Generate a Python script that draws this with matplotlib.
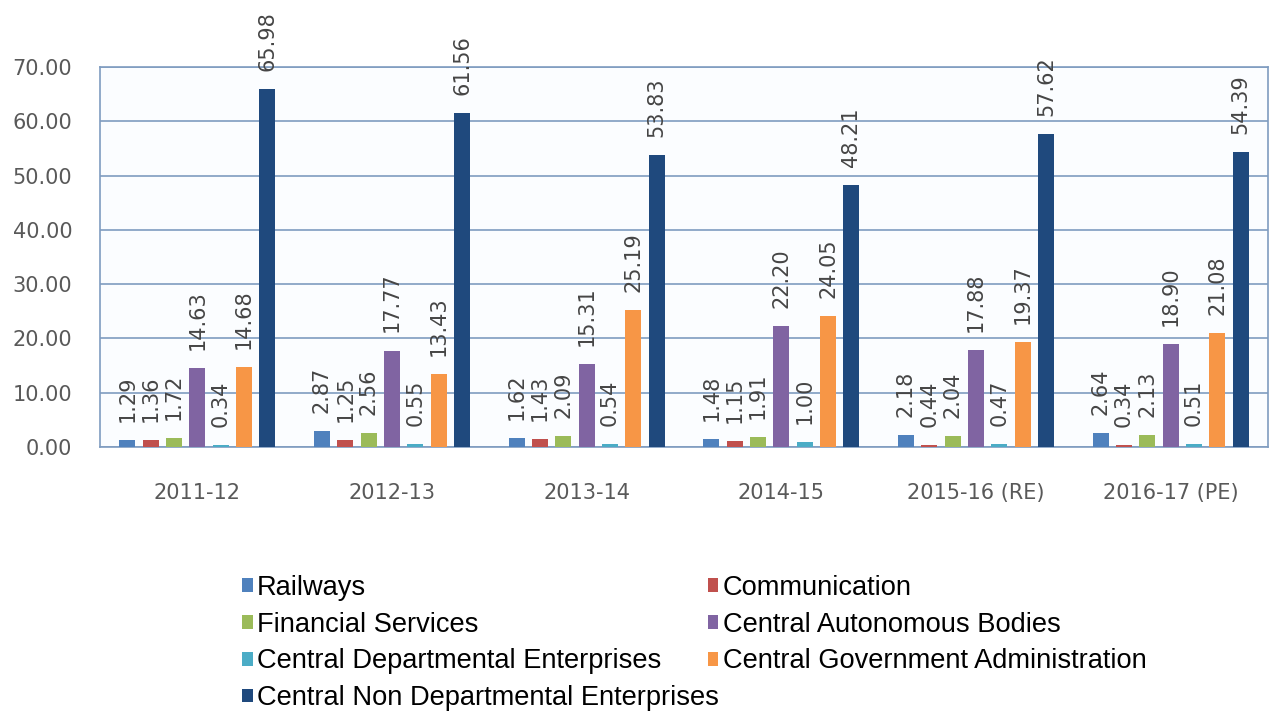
import numpy as np
import matplotlib
matplotlib.use("Agg")
import matplotlib.pyplot as plt

years = ["2011-12", "2012-13", "2013-14", "2014-15", "2015-16 (RE)", "2016-17 (PE)"]
series_names = ["Railways", "Communication", "Financial Services",
                "Central Autonomous Bodies", "Central Departmental Enterprises",
                "Central Government Administration",
                "Central Non Departmental Enterprises"]
railways = [1.29, 2.87, 1.62, 1.48, 2.18, 2.64]
communication = [1.36, 1.25, 1.43, 1.15, 0.44, 0.34]
financial = [1.72, 2.56, 2.09, 1.91, 2.04, 2.13]
autonomous = [14.63, 17.77, 15.31, 22.20, 17.88, 18.90]
dept_ent = [0.34, 0.55, 0.54, 1.00, 0.47, 0.51]
govt_admin = [14.68, 13.43, 25.19, 24.05, 19.37, 21.08]
non_dept_ent = [65.98, 61.56, 53.83, 48.21, 57.62, 54.39]

colors = ["#4F81BD", "#C0504D", "#9BBB59", "#8064A2", "#4BACC6", "#F79646", "#1F497D"]
all_series = [railways, communication, financial, autonomous, dept_ent,
              govt_admin, non_dept_ent]

fig = plt.figure(figsize=(12.71, 7.12), dpi=100)
ax = fig.add_axes([100/1271, 1 - 447/712, 1168/1271, 380/712])
ax.set_facecolor("#fbfdff")

x = np.arange(len(years))
slot = 0.12
width = 0.082
handles = []
for i, (vals, c) in enumerate(zip(all_series, colors)):
    pos = x + (i - 3) * slot
    b = ax.bar(pos, vals, width, color=c, zorder=3, label=series_names[i])
    handles.append(b)
    for px, v in zip(pos, vals):
        ax.annotate("%.2f" % v, (px, v), xytext=(0, 13), textcoords="offset points",
                    rotation=90, ha="center", va="bottom", fontsize=15,
                    color="#454545", zorder=4, annotation_clip=False)

ax.set_xlim(-0.5, len(years) - 0.5)
ax.set_ylim(0, 70)
ax.set_yticks(np.arange(0, 71, 10))
ax.set_yticklabels(["%.2f" % t for t in np.arange(0, 71, 10)], fontsize=15, color="#595959")
ax.set_xticks(x)
ax.set_xticklabels(years, fontsize=15, color="#595959")
ax.tick_params(axis="y", length=0, pad=20)
ax.tick_params(axis="x", length=0, pad=26)
ax.yaxis.grid(True, color="#7f9cc0", linewidth=1.2, zorder=0)
for s in ax.spines.values():
    s.set_color("#7f9cc0")
    s.set_linewidth(1.2)

# row-wise order for a two-column legend
order = [0, 2, 4, 6, 1, 3, 5]
leg = fig.legend([handles[k] for k in order], [series_names[k] for k in order],
                 loc="upper left", bbox_to_anchor=(228/1271, 1 - 561/712),
                 ncol=2, frameon=False, handlelength=0.4,
                 handleheight=0.4, handletextpad=0.15, columnspacing=-0.4,
                 labelspacing=0.40, borderpad=0,
                 prop={"family": "Liberation Sans", "size": 19.6})

fig.savefig("out.png", dpi=100)
